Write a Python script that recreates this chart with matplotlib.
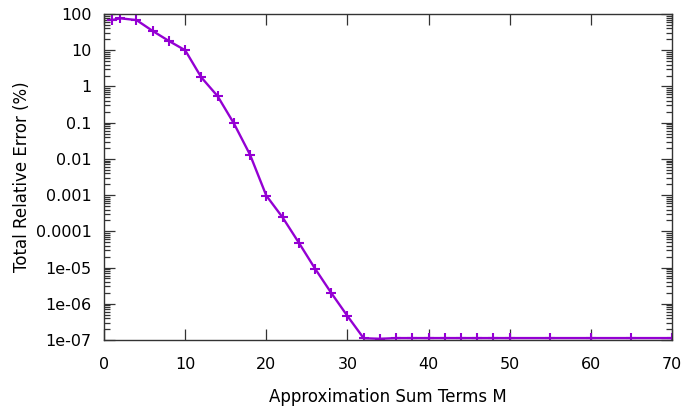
import matplotlib
matplotlib.use("Agg")
import matplotlib.pyplot as plt
from matplotlib.ticker import LogLocator, FixedLocator, NullFormatter

terms_m = [1, 2, 4, 6, 8, 10, 12, 14, 16, 18, 20, 22, 24, 26, 28, 30, 32, 34,
           36, 38, 40, 42, 44, 46, 48, 50, 55, 60, 65, 70]
rel_error = [68, 76, 68, 34, 18, 10, 1.77, 0.54, 0.096, 0.013, 0.00097, 0.000244,
             4.9e-5, 9.4e-6, 2.0e-6, 4.6e-7, 1.12e-7, 1.08e-7,
             1.13e-7, 1.13e-7, 1.13e-7, 1.13e-7, 1.13e-7, 1.13e-7, 1.13e-7, 1.13e-7,
             1.13e-7, 1.13e-7, 1.13e-7, 1.13e-7]
y_ticks = [1e-7, 1e-6, 1e-5, 1e-4, 1e-3, 1e-2, 0.1, 1, 10, 100]
y_tick_labels = ["1e-07", "1e-06", "1e-05", "0.0001", "0.001", "0.01", "0.1", "1", "10", "100"]
x_ticks = [0, 10, 20, 30, 40, 50, 60, 70]

plt.rcParams['font.family'] = ['DejaVu Sans']
fig = plt.figure(figsize=(6.83, 4.12), dpi=100)
ax = fig.add_axes([104/683, 1 - 340/412, (672-104)/683, (340-14)/412])

ax.plot(terms_m, rel_error, color="#9400D3", lw=1.7, marker="+", ms=6.5, mew=1.5)
ax.set_yscale("log")
ax.set_xlim(0, 70)
ax.set_ylim(1e-7, 100)

ax.yaxis.set_major_locator(FixedLocator(y_ticks))
ax.set_yticklabels(y_tick_labels)
ax.yaxis.set_minor_locator(LogLocator(base=10, subs=range(2, 10), numticks=20))
ax.yaxis.set_minor_formatter(NullFormatter())
ax.set_xticks(x_ticks)

ax.tick_params(which="both", direction="in", top=True, right=True, labelsize=11.5,
               color="#333333", width=0.9)
ax.tick_params(which="major", length=8)
ax.tick_params(axis="y", which="major", pad=9)
ax.tick_params(axis="x", which="major", pad=12)
ax.tick_params(which="minor", length=4)
for s in ax.spines.values():
    s.set_color("#333333")
    s.set_linewidth(1.0)

ax.set_xlabel("Approximation Sum Terms M", fontsize=12, labelpad=12)
ax.set_ylabel("Total Relative Error (%)", fontsize=12, labelpad=3)

fig.savefig("out.png", dpi=100)
